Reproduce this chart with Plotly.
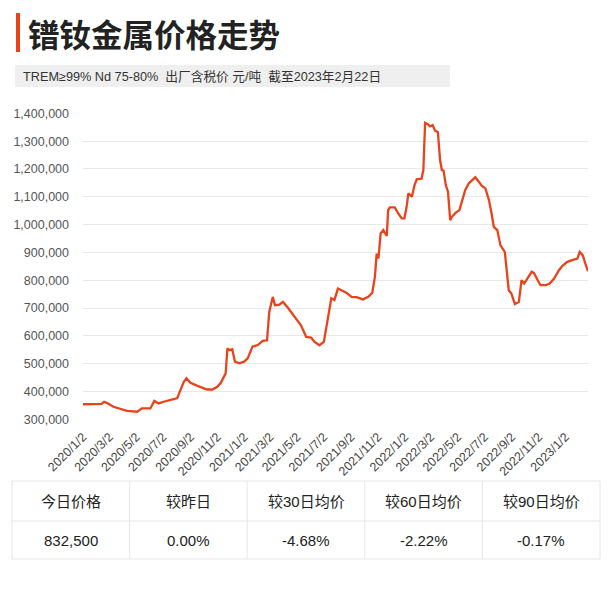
import plotly.graph_objects as go

# ---------------- data ----------------
dates = [
    "2020-01-02", "2020-02-13", "2020-02-19", "2020-02-26", "2020-03-11", "2020-03-22",
    "2020-04-11", "2020-05-04", "2020-05-15", "2020-06-03", "2020-06-12", "2020-06-22",
    "2020-07-03", "2020-07-26", "2020-08-03", "2020-08-10", "2020-08-18", "2020-08-24",
    "2020-09-02", "2020-09-18", "2020-10-10", "2020-10-22", "2020-11-02", "2020-11-10",
    "2020-11-21", "2020-11-25", "2020-11-29", "2020-12-06", "2020-12-12", "2020-12-22",
    "2021-01-02", "2021-01-10", "2021-01-21", "2021-02-02", "2021-02-13", "2021-02-23",
    "2021-02-28", "2021-03-08", "2021-03-13", "2021-03-23", "2021-03-31", "2021-04-11",
    "2021-04-26", "2021-05-11", "2021-05-23", "2021-06-03", "2021-06-11", "2021-06-22",
    "2021-07-02", "2021-07-11", "2021-07-19", "2021-07-26", "2021-08-03", "2021-08-11",
    "2021-08-22", "2021-09-03", "2021-09-14", "2021-09-29", "2021-10-11", "2021-10-20",
    "2021-10-26", "2021-10-30", "2021-11-03", "2021-11-08", "2021-11-14", "2021-11-22",
    "2021-11-25", "2021-11-29", "2021-12-10", "2021-12-18", "2021-12-26", "2022-01-01",
    "2022-01-06", "2022-01-10", "2022-01-18", "2022-01-24", "2022-01-29", "2022-02-09",
    "2022-02-13", "2022-02-17", "2022-02-23", "2022-02-28", "2022-03-06", "2022-03-12",
    "2022-03-18", "2022-03-23", "2022-03-27", "2022-03-31", "2022-04-05", "2022-04-10",
    "2022-04-15", "2022-04-19", "2022-04-27", "2022-05-06", "2022-05-12", "2022-05-19",
    "2022-05-27", "2022-06-05", "2022-06-11", "2022-06-19", "2022-06-26", "2022-07-04",
    "2022-07-12", "2022-07-18", "2022-07-23", "2022-07-31", "2022-08-07", "2022-08-17",
    "2022-08-22", "2022-08-26", "2022-09-01", "2022-09-09", "2022-09-18", "2022-09-24",
    "2022-09-30", "2022-10-07", "2022-10-17", "2022-10-22", "2022-10-28", "2022-11-06",
    "2022-11-18", "2022-11-27", "2022-12-07", "2022-12-18", "2022-12-26", "2023-01-06",
    "2023-01-22", "2023-01-29", "2023-02-03", "2023-02-10", "2023-02-16", "2023-02-22",
]
prices = [
    354000, 355000, 363000, 358000, 345000, 339000,
    330000, 327000, 339000, 339000, 366000, 357000,
    363000, 372000, 376000, 404000, 435000, 447000,
    431000, 420000, 407000, 407000, 417000, 431000,
    465000, 555000, 549000, 552000, 507000, 501000,
    507000, 519000, 561000, 567000, 582000, 584000,
    686000, 740000, 710000, 712000, 722000, 702000,
    668000, 638000, 596000, 594000, 578000, 566000,
    578000, 663000, 735000, 729000, 770000, 764000,
    755000, 740000, 739000, 731000, 740000, 755000,
    812000, 896000, 878000, 968000, 980000, 959000,
    1052000, 1062000, 1062000, 1040000, 1022000, 1022000,
    1064000, 1112000, 1100000, 1142000, 1163000, 1165000,
    1196000, 1366000, 1361000, 1353000, 1358000, 1337000,
    1333000, 1232000, 1196000, 1194000, 1142000, 1118000,
    1016000, 1028000, 1042000, 1052000, 1088000, 1124000,
    1148000, 1160000, 1170000, 1154000, 1139000, 1130000,
    1088000, 1040000, 992000, 980000, 926000, 902000,
    825000, 764000, 752000, 714000, 722000, 800000,
    788000, 806000, 830000, 826000, 806000, 782000,
    782000, 788000, 806000, 836000, 852000, 866000,
    875000, 878000, 902000, 890000, 860000, 832500,
]

title_text = "镨钕金属价格走势"
subtitle_text = "TREM≥99% Nd 75-80%  出厂含税价 元/吨  截至2023年2月22日"
table_headers = ["今日价格", "较昨日", "较30日均价", "较60日均价", "较90日均价"]
table_values = ["832,500", "0.00%", "-4.68%", "-2.22%", "-0.17%"]

# ---------------- styling ----------------
W, H = 612, 612
FONT = "Liberation Sans, Arial, Noto Sans CJK SC, sans-serif"
CJK = "Noto Sans CJK SC, Liberation Sans, sans-serif"
RED = "#e8431b"
BORDER = "#e6e6e6"


def fx(p):
    return p / W


def fy(p):
    return 1 - p / H


fig = go.Figure()

fig.add_trace(go.Scatter(
    x=dates, y=prices, mode="lines",
    line=dict(color=RED, width=2.3),
    hoverinfo="x+y", showlegend=False,
))

shapes = [
    dict(type="rect", xref="paper", yref="paper",
         x0=fx(16), x1=fx(20), y0=fy(52), y1=fy(13),
         fillcolor=RED, line=dict(width=0)),
    dict(type="rect", xref="paper", yref="paper",
         x0=fx(15), x1=fx(450), y0=fy(87), y1=fy(65),
         fillcolor="#efefef", line=dict(width=0), layer="below"),
]
annotations = [
    dict(text="<b>" + title_text + "</b>", xref="paper", yref="paper",
         x=fx(26), y=fy(33), xanchor="left", yanchor="middle",
         showarrow=False, font=dict(family=CJK, size=31.5, color="#222")),
    dict(text=subtitle_text, xref="paper", yref="paper",
         x=fx(21), y=fy(76), xanchor="left", yanchor="middle",
         showarrow=False, font=dict(family=FONT, size=12.7, color="#333")),
]

# ---- summary table (drawn with shapes + annotations) ----
T_LEFT, T_RIGHT = 12, 600
T_TOP, T_MID, T_BOT = 481, 521, 559
ncol = len(table_headers)
cw = (T_RIGHT - T_LEFT) / ncol
for yy in (T_TOP, T_MID, T_BOT):
    shapes.append(dict(type="line", xref="paper", yref="paper",
                       x0=fx(T_LEFT), x1=fx(T_RIGHT), y0=fy(yy), y1=fy(yy),
                       line=dict(color=BORDER, width=1)))
for i in range(ncol + 1):
    xx = T_LEFT + i * cw
    shapes.append(dict(type="line", xref="paper", yref="paper",
                       x0=fx(xx), x1=fx(xx), y0=fy(T_TOP), y1=fy(T_BOT),
                       line=dict(color=BORDER, width=1)))
for i, (h, v) in enumerate(zip(table_headers, table_values)):
    cx = T_LEFT + (i + 0.5) * cw
    annotations.append(dict(text=h, xref="paper", yref="paper",
                            x=fx(cx), y=fy((T_TOP + T_MID) / 2 + 0.5),
                            xanchor="center", yanchor="middle", showarrow=False,
                            font=dict(family=FONT, size=15, color="#222")))
    annotations.append(dict(text=v, xref="paper", yref="paper",
                            x=fx(cx), y=fy((T_MID + T_BOT) / 2),
                            xanchor="center", yanchor="middle", showarrow=False,
                            font=dict(family=FONT, size=15, color="#222")))

fig.update_layout(
    width=W, height=H,
    margin=dict(l=0, r=0, t=0, b=0, autoexpand=False),
    paper_bgcolor="white", plot_bgcolor="white",
    font=dict(family=FONT, color="#444"),
    xaxis=dict(
        domain=[fx(83), fx(588)],
        type="date",
        range=["2020-01-02", "2023-02-22"],
        tick0="2020-01-02", dtick="M2",
        tickformat="%Y/%-m/%-d",
        tickangle=-45,
        tickfont=dict(size=12.5, color="#444"),
        showgrid=False, zeroline=False, showline=False,
        ticks="", ticklabelstandoff=6,
        automargin=False,
    ),
    yaxis=dict(
        domain=[fy(420.1), fy(112.5)],
        range=[297000, 1403000],
        dtick=100000, tick0=0,
        tickformat=",",
        tickfont=dict(size=12.5, color="#555"),
        gridcolor="#e8e8e8", gridwidth=1,
        zeroline=False, showline=False,
        ticks="", ticklabelstandoff=13,
        automargin=False,
    ),
    shapes=shapes,
    annotations=annotations,
)

fig.write_html("out.html")
